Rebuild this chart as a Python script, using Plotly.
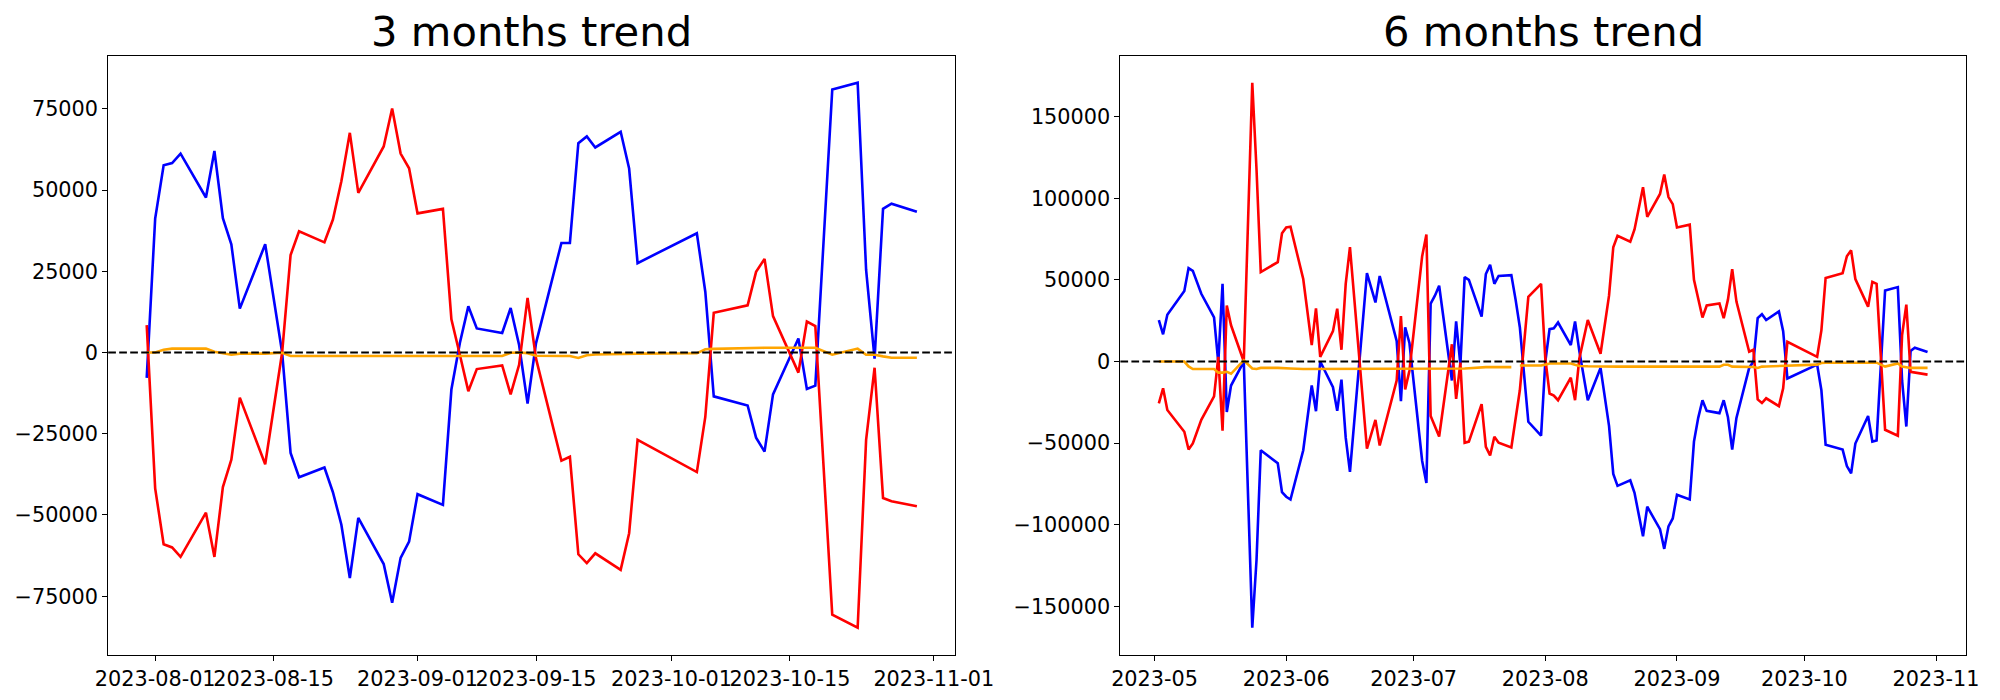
import pandas as pd
import plotly.graph_objects as go

# ---------------- data: 3 months trend ----------------
left_dates = [
    "2023-07-31",
    "2023-08-01", "2023-08-02", "2023-08-03", "2023-08-04", "2023-08-07", "2023-08-08",
    "2023-08-09", "2023-08-10", "2023-08-11", "2023-08-14", "2023-08-16", "2023-08-17",
    "2023-08-18", "2023-08-21", "2023-08-22", "2023-08-23", "2023-08-24", "2023-08-25",
    "2023-08-28", "2023-08-29", "2023-08-30", "2023-08-31",
    "2023-09-01", "2023-09-04", "2023-09-05", "2023-09-06", "2023-09-07", "2023-09-08",
    "2023-09-11", "2023-09-12", "2023-09-13", "2023-09-14", "2023-09-15", "2023-09-18",
    "2023-09-19", "2023-09-20", "2023-09-21", "2023-09-22", "2023-09-25", "2023-09-26",
    "2023-09-27",
    "2023-10-04", "2023-10-05", "2023-10-06", "2023-10-10", "2023-10-11", "2023-10-12",
    "2023-10-13", "2023-10-16", "2023-10-17", "2023-10-18", "2023-10-20", "2023-10-23",
    "2023-10-24", "2023-10-25", "2023-10-26", "2023-10-27", "2023-10-30",
]
left_blue = [
    -7800,
    41200, 57600, 58300, 61200, 47700, 62000, 41300, 33300, 13500, 33300, 0, -30900,
    -38400, -35400, -43000, -53000, -69400, -50900, -65100, -77000, -63200, -58200,
    -43600, -46900, -11400, 2900, 14200, 7400, 6000, 13700, 2300, -15700, 2900, 33700,
    33700, 64400, 66500, 63100, 67900, 56600, 27500,
    36700, 18700, -13500, -16300, -26200, -30500, -12900, 4300, -11200, -10200, 80900,
    83000, 25400, -1900, 44200, 45800, 43300,
]
left_red = [
    8400,
    -41800, -59000, -60000, -62900, -49300, -62900, -41400, -33000, -13900, -34400, 0,
    30000, 37300, 33900, 40900, 52700, 67600, 49100, 63400, 75100, 61200, 56700,
    42800, 44200, 10200, -700, -11900, -5100, -4000, -12900, -3800, 16800, -1900, -33300,
    -32100, -62100, -64800, -61800, -66900, -55600, -26900,
    -36800, -19800, 12200, 14500, 24800, 28800, 11200, -6200, 9500, 8100, -80700,
    -84700, -26900, -4700, -44800, -45800, -47300,
]
left_orange = [
    0,
    0, 850, 1200, 1200, 1200, 250, -250, -700, -350, -350, -100, -1100, -1100, -1100,
    -1100, -1100, -1100, -1100, -1100, -1100, -1100, -1100,
    -1100, -1100, -1100, -1100, -1100, -1100, -1100, -100, 0, -200, -1000, -1100,
    -1100, -1700, -850, -600, -400, -400, -350,
    -250, 1000, 1100, 1450, 1450, 1450, 1450, 1450, 1450, 1450, -700, 1200, -700,
    -700, -1200, -1600, -1600,
]

# ---------------- data: 6 months trend ----------------
right_dates = [
    "2023-05-02", "2023-05-03", "2023-05-04", "2023-05-08", "2023-05-09", "2023-05-10",
    "2023-05-12", "2023-05-15", "2023-05-16", "2023-05-17", "2023-05-18", "2023-05-19",
    "2023-05-22", "2023-05-24", "2023-05-25", "2023-05-26", "2023-05-30", "2023-05-31",
    "2023-06-01", "2023-06-02", "2023-06-05", "2023-06-07", "2023-06-08", "2023-06-09",
    "2023-06-12", "2023-06-13", "2023-06-14", "2023-06-15", "2023-06-16", "2023-06-20",
    "2023-06-22", "2023-06-23", "2023-06-27", "2023-06-28", "2023-06-29", "2023-06-30",
    "2023-07-03", "2023-07-04", "2023-07-05", "2023-07-06", "2023-07-07", "2023-07-10",
    "2023-07-11", "2023-07-12", "2023-07-13", "2023-07-14", "2023-07-17", "2023-07-18",
    "2023-07-19", "2023-07-20", "2023-07-21", "2023-07-24", "2023-07-25", "2023-07-26",
    "2023-07-28", "2023-07-31",
    "2023-08-01", "2023-08-02", "2023-08-03", "2023-08-04", "2023-08-07", "2023-08-08",
    "2023-08-09", "2023-08-11", "2023-08-14", "2023-08-16", "2023-08-17", "2023-08-18",
    "2023-08-21", "2023-08-22", "2023-08-24", "2023-08-25", "2023-08-28", "2023-08-29",
    "2023-08-30", "2023-08-31",
    "2023-09-01", "2023-09-04", "2023-09-05", "2023-09-06", "2023-09-07", "2023-09-08",
    "2023-09-11", "2023-09-12", "2023-09-13", "2023-09-14", "2023-09-15", "2023-09-18",
    "2023-09-19", "2023-09-20", "2023-09-21", "2023-09-22", "2023-09-25", "2023-09-26",
    "2023-09-27",
    "2023-10-04", "2023-10-05", "2023-10-06", "2023-10-10", "2023-10-11", "2023-10-12",
    "2023-10-13", "2023-10-16", "2023-10-17", "2023-10-18", "2023-10-20", "2023-10-23",
    "2023-10-24", "2023-10-25", "2023-10-26", "2023-10-27", "2023-10-30",
]
right_blue = [
    25400, 16700, 28700, 43200, 57200, 55500, 41500, 27000, -700, 47600, -30900, -14700,
    0, -163000, -121500, -54300, -62300, -80000,
    -82800, -84500, -54300, -14700, -30400, 0, -15700, -30200, -11100, -46600, -67600,
    54100, 36200, 52400, 12600, -24200, 21000, 11400,
    -60900, -74400, 35500, 40300, 46400, -11600, 24600, -1900, 51700, 50000, 27500,
    53600, 59200, 47600, 52400, 52900, 37900, 21000, -36900, -45400,
    0, 19800, 20300, 23900, 10100, 24600, 6500, -23700, -3900, -39400, -68800, -76100,
    -72700, -80400, -107000, -88900, -102600, -114700, -100900, -96100,
    -81600, -84500, -49000, -34500, -23700, -30200, -31600, -23700, -34100, -53900,
    -34500, -3900, 0, 26600, 29000, 25400, 30700, 18600, -10400,
    -1900, -17600, -51000, -53900, -64000, -68400, -50200, -33300, -49000, -48300,
    43500, 45600, -11600, -39800, 6500, 8500, 5800,
]
right_red = [
    -25600, -16400, -29700, -43000, -53900, -50200, -35700, -21300, 2900, -42300, 34300,
    22200, 0, 170700, 117600, 54800, 60900, 78500,
    82100, 82600, 50500, 10100, 32600, 2900, 18600, 32400, 7200, 47600, 70000, -53400,
    -35700, -51400, -11600, 27800, -17100, -5600,
    64500, 77800, -33300, -39400, -45900, 10600, -22900, -700, -49700, -49000, -26100,
    -52200, -57500, -46100, -49700, -52600, -36000, -17600, 39600, 47600,
    1700, -19600, -20800, -23700, -9900, -23700, 1700, 25400, 4800, 40300, 70000, 77000,
    73400, 80900, 106700, 88600, 102600, 114500, 100700, 96400,
    82100, 83800, 50000, 38400, 27000, 34300, 35500, 26600, 37900, 56500, 36700, 6000,
    7200, -23200, -25400, -22500, -27300, -16400, 12100,
    2900, 19100, 51200, 54100, 64500, 68100, 50500, 33600, 48800, 47600, -41800, -45400,
    16200, 34800, -6300, -6800, -8000,
]
right_orange = [
    0, 0, 0, 0, -3000, -4600, -4600, -4600, -6800, -6800, -6300, -7500, 700, -4300,
    -4600, -3900, -3900, -3900,
    -4100, -4300, -4600, -4600, -4600, -4600, -4600, -4600, -4600, -4500, -4300, -4300,
    -4300, -4300, -4300, -4300, -4300, -4300,
    -4300, -4300, -4300, -4300, -4300, -4300, -4300, -4300, -4300, -4100, -3400, -3400,
    -3400, -3400, -3400, -3400, None, -2400, -2400, -2400,
    -1900, -1200, -1200, -1200, -1200, -2000, -2700, -2900, -3100, -3100, -3100, -3100,
    -3100, -3100, -3100, -3100, -3100, -3100, -3100, -3100,
    -3100, -3100, -3100, -3100, -3100, -3100, -3100, -2000, -2000, -3100, -3100, -3100,
    -3300, -3900, -3100, -3000, -2800, -2600, -2400,
    -1900, -900, -700, -700, -700, -700, -700, -700, -700, -700, -3100, -1200, -3100,
    -3600, -3900, -3900, -3900,
]

# ---------------- ticks / titles ----------------
left_title = "3 months trend"
right_title = "6 months trend"
left_xtick_vals = ["2023-08-01", "2023-08-15", "2023-09-01", "2023-09-15",
                   "2023-10-01", "2023-10-15", "2023-11-01"]
left_xtick_text = ["2023-08-01", "2023-08-15", "2023-09-01", "2023-09-15",
                   "2023-10-01", "2023-10-15", "2023-11-01"]
right_xtick_vals = ["2023-05-01", "2023-06-01", "2023-07-01", "2023-08-01",
                    "2023-09-01", "2023-10-01", "2023-11-01"]
right_xtick_text = ["2023-05", "2023-06", "2023-07", "2023-08",
                    "2023-09", "2023-10", "2023-11"]
left_yticks = [-75000, -50000, -25000, 0, 25000, 50000, 75000]
right_yticks = [-150000, -100000, -50000, 0, 50000, 100000, 150000]

FONT = "DejaVu Sans"
TICK_PX = 20.8
TITLE_PX = 41.7
LW = 2.6


def date_range(dates, frac=0.05):
    d = pd.to_datetime(pd.Series(dates))
    span = d.max() - d.min()
    return [(d.min() - span * frac).strftime("%Y-%m-%d %H:%M:%S"),
            (d.max() + span * frac).strftime("%Y-%m-%d %H:%M:%S")]


def val_range(*series, frac=0.05):
    vals = [v for s in series for v in s if v is not None]
    lo, hi = min(vals), max(vals)
    p = (hi - lo) * frac
    return [lo - p, hi + p]


def fmt(v):
    return str(v).replace("-", "\u2212")


fig = go.Figure()

for xa, ya, dates, blue, red, orange in [
    ("x", "y", left_dates, left_blue, left_red, left_orange),
    ("x2", "y2", right_dates, right_blue, right_red, right_orange),
]:
    fig.add_trace(go.Scatter(x=dates, y=blue, mode="lines", xaxis=xa, yaxis=ya,
                             line=dict(color="blue", width=LW), showlegend=False))
    fig.add_trace(go.Scatter(x=dates, y=red, mode="lines", xaxis=xa, yaxis=ya,
                             line=dict(color="red", width=LW), showlegend=False))
    fig.add_trace(go.Scatter(x=dates, y=orange, mode="lines", xaxis=xa, yaxis=ya,
                             line=dict(color="orange", width=LW), showlegend=False,
                             connectgaps=False))

# zero reference lines (axhline)
for xr, yr in [("x domain", "y"), ("x2 domain", "y2")]:
    fig.add_shape(type="line", xref=xr, yref=yr, x0=0, x1=1, y0=0, y1=0,
                  line=dict(color="black", width=2.1, dash="7.7px,3.3px"), layer="above")

axis_common = dict(
    showline=True, linecolor="black", linewidth=1.1, mirror=True,
    ticks="outside", ticklen=4.9, tickwidth=1.1, tickcolor="black",
    showgrid=False, zeroline=False, automargin=False, tickangle=0,
    tickfont=dict(family=FONT, size=TICK_PX, color="black"),
)

Y_DOMAIN = [0.0643, 0.9207]

fig.update_layout(
    width=2000, height=700,
    margin=dict(l=0, r=0, t=0, b=0),
    paper_bgcolor="white", plot_bgcolor="white",
    template="none",
    xaxis=dict(domain=[0.0541, 0.4777], anchor="y", type="date",
               range=date_range(left_dates),
               tickmode="array", tickvals=left_xtick_vals, ticktext=left_xtick_text,
               **axis_common),
    yaxis=dict(domain=Y_DOMAIN, anchor="x",
               range=val_range(left_blue, left_red, left_orange),
               tickmode="array", tickvals=left_yticks,
               ticktext=[fmt(v) for v in left_yticks], **axis_common),
    xaxis2=dict(domain=[0.5602, 0.9830], anchor="y2", type="date",
                range=date_range(right_dates),
                tickmode="array", tickvals=right_xtick_vals, ticktext=right_xtick_text,
                **axis_common),
    yaxis2=dict(domain=Y_DOMAIN, anchor="x2",
                range=val_range(right_blue, right_red, right_orange),
                tickmode="array", tickvals=right_yticks,
                ticktext=[fmt(v) for v in right_yticks], **axis_common),
    annotations=[
        dict(text=left_title, xref="paper", yref="paper", x=(0.0541 + 0.4777) / 2,
             y=1 - 31.8 / 700, xanchor="center", yanchor="middle", showarrow=False,
             font=dict(family=FONT, size=TITLE_PX, color="black")),
        dict(text=right_title, xref="paper", yref="paper", x=(0.5602 + 0.9830) / 2,
             y=1 - 31.8 / 700, xanchor="center", yanchor="middle", showarrow=False,
             font=dict(family=FONT, size=TITLE_PX, color="black")),
    ],
)

fig.write_html("out.html", config={"displayModeBar": False},
               post_script="document.body.style.margin='0px';")
